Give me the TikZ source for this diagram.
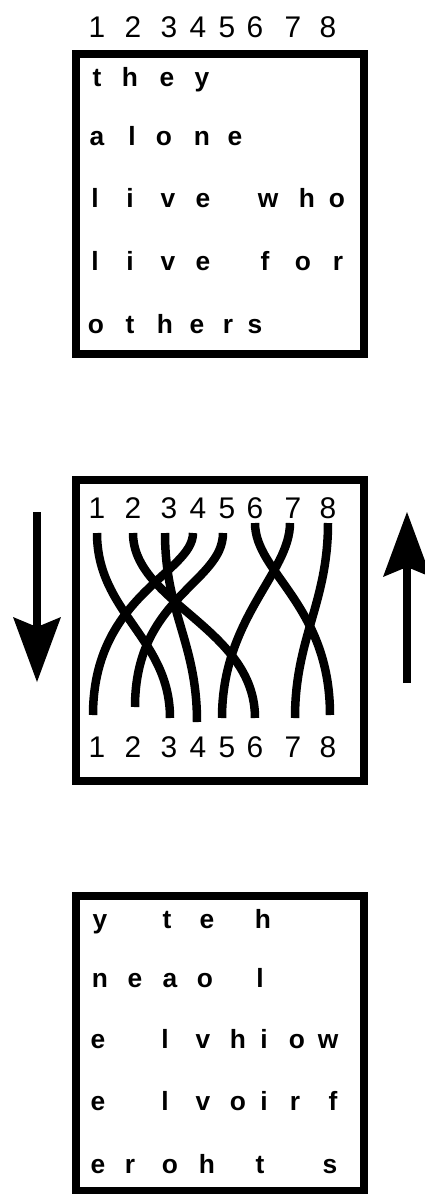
\documentclass[tikz,border=0pt]{standalone}
\usepackage{fontspec}
\setmainfont{Liberation Sans}
\usetikzlibrary{arrows.meta}
\tikzset{frame/.style={line width=0.16cm},wire/.style={line width=0.17cm},num/.style={anchor=base,inner sep=0pt,font=\fontsize{17}{20}\selectfont},ltr/.style={anchor=base,inner sep=0pt,font=\fontsize{15}{18}\selectfont\bfseries},dir/.style={line width=0.16cm,-{Stealth[length=1.3cm,width=0.96cm,inset=0.2cm,line width=0pt]}}}

\begin{document}
\begin{tikzpicture}[x=0.02cm,y=-0.02cm]
\path[use as bounding box] (0,0) rectangle (425,1194);
% the three boxes
\draw[frame] (76,54) rectangle (364,354);
\draw[frame] (76,480) rectangle (364,781);
\draw[frame] (76,896) rectangle (364,1191);
% column numbers
\foreach \xx [count=\i] in {97,133,169,198,227,255,293,328}{
\node[num] (k\i) at (\xx,37) {\i};
\node[num] (n\i) at (\xx,518) {\i};
\node[num] (m\i) at (\xx,757) {\i};
}
% plain text
\foreach \ch/\xx [count=\i] in {t/97,h/130,e/167,y/202} \node[ltr] (pa\i) at (\xx,86) {\ch};
\foreach \ch/\xx [count=\i] in {a/97,l/132,o/164,n/202,e/235} \node[ltr] (pb\i) at (\xx,145) {\ch};
\foreach \ch/\xx [count=\i] in {l/95,i/130,v/168,e/203,w/268,h/307,o/337} \node[ltr] (pc\i) at (\xx,207) {\ch};
\foreach \ch/\xx [count=\i] in {l/95,i/130,v/168,e/203,f/265,o/303,r/338} \node[ltr] (pd\i) at (\xx,270) {\ch};
\foreach \ch/\xx [count=\i] in {o/96,t/130,h/165,e/197,r/228,s/255} \node[ltr] (pe\i) at (\xx,333) {\ch};
% wires
\foreach \name/\xx/\yy in {t1/97/533,t2/133/533,t3/165/533,t4/193/533,t5/223/533,t6/255/523,t7/290/523,t8/328/523,b1/93/715,b2/135/707,b3/170/718,b4/197/722,b5/222/718,b6/255/718,b7/295/718,b8/330/715}
\coordinate (\name) at (\xx,\yy);
\foreach \a/\b/\p/\q in {1/3/80/80,2/6/70/90,3/4/80/80,4/1/40/120,5/2/50/110,6/8/50/110,7/5/50/100,8/7/80/80}
\draw[wire] (t\a) .. controls +(0,\p) and +(0,-\q) .. (b\b);
% arrows
\coordinate (dn1) at (37,512);
\coordinate (dn2) at (37,682);
\coordinate (up1) at (407,683);
\coordinate (up2) at (407,512);
\draw[dir] (dn1) -- (dn2);
\draw[dir] (up1) -- (up2);
% cipher text
\foreach \ch/\xx [count=\i] in {y/100,t/167,e/207,h/263} \node[ltr] (ca\i) at (\xx,928) {\ch};
\foreach \ch/\xx [count=\i] in {n/100,e/135,a/170,o/205,l/260} \node[ltr] (cb\i) at (\xx,987) {\ch};
\foreach \ch/\xx [count=\i] in {e/98,l/165,v/203,h/238,i/264,o/297,w/328} \node[ltr] (cc\i) at (\xx,1048) {\ch};
\foreach \ch/\xx [count=\i] in {e/98,l/165,v/203,o/238,i/264,r/295,f/333} \node[ltr] (cd\i) at (\xx,1110) {\ch};
\foreach \ch/\xx [count=\i] in {e/98,r/130,o/170,h/207,t/260,s/330} \node[ltr] (ce\i) at (\xx,1173) {\ch};
\end{tikzpicture}
\end{document}
